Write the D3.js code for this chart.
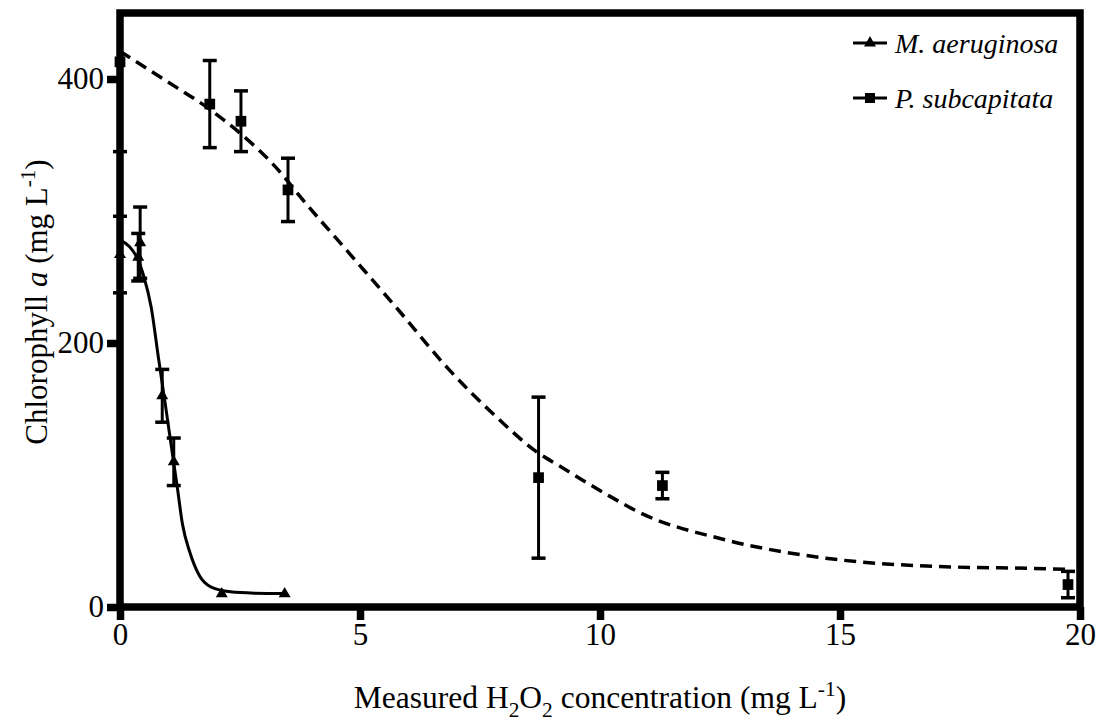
<!DOCTYPE html>
<html>
<head>
<meta charset="utf-8">
<script src="https://cdn.jsdelivr.net/npm/d3@7"></script>
<style>
body { margin: 0; background: #fff; }
text { font-family: "Liberation Serif", "Times New Roman", serif; fill: #000; }
</style>
</head>
<body>
<script>
// tick values
var xTicks = [0, 5, 10, 15, 20];
var yTicks = [0, 200, 400];

// M. aeruginosa: means and error
var maeX   = [0, 0.38, 0.42, 0.88, 1.12, 2.12, 3.43];
var maeY   = [267, 265, 276, 160, 110, 10, 10];
var maeErr = [29, 18, 27, 20, 18, 0, 0];

// M. aeruginosa fitted curve
var maeFitX = [0, 0.2, 0.35, 0.5, 0.65, 0.8, 0.95, 1.1, 1.2, 1.3, 1.45, 1.65, 1.9, 2.3, 2.8, 3.45];
var maeFitY = [278, 273, 265, 250, 227, 189, 152, 114, 89, 63, 42, 24, 15, 11.5, 10.5, 10.2];

// P. subcapitata: means and error
var psX   = [0, 1.87, 2.52, 3.5, 8.72, 11.3, 19.75];
var psY   = [413, 381, 368, 316, 98, 92, 17];
var psErr = [68, 33, 23, 24, 61, 10, 10];

// P. subcapitata fitted curve (dashed)
var psFitX = [0, 0.9, 1.87, 2.5, 3.3, 3.75, 4.8, 5.8, 6.85, 7.9, 8.7, 9.15, 10.2, 10.8, 12.6, 14.7, 16.8, 19.3, 19.8];
var psFitY = [421, 400, 377, 359, 331, 311, 267, 225, 180, 142, 117, 107, 84, 72, 51, 37, 31, 29, 28.5];

var margin = {top: 13, right: 20, bottom: 114, left: 120},
    width = 1100 - margin.left - margin.right,
    height = 721 - margin.top - margin.bottom;

var svgRoot = d3.select("body").append("svg")
    .attr("width", width + margin.left + margin.right)
    .attr("height", height + margin.top + margin.bottom);

var svg = svgRoot.append("g")
    .attr("transform", "translate(" + margin.left + "," + margin.top + ")");

var x = d3.scaleLinear().domain([0, 20]).range([0, width]),
    y = d3.scaleLinear().domain([0, 450]).range([height, 0]);

// clip so the big error bar at x=0 does not poke out over the top
svg.append("clipPath").attr("id", "plotclip")
  .append("rect")
    .attr("x", -20).attr("y", -3)
    .attr("width", width + 40).attr("height", height + 20);

// axes
var xAxis = d3.axisBottom(x).tickValues(xTicks).tickSize(13).tickPadding(3).tickSizeOuter(0);
var yAxis = d3.axisLeft(y).tickValues(yTicks).tickSize(13).tickPadding(3).tickSizeOuter(0);

var gx = svg.append("g")
    .attr("transform", "translate(0," + height + ")")
    .call(xAxis);
var gy = svg.append("g").call(yAxis);

[gx, gy].forEach(function(g) {
  g.attr("font-family", null).attr("font-size", null);
  g.select(".domain").remove();
  g.selectAll(".tick line").attr("stroke", "#000").attr("stroke-width", 7.5);
  g.selectAll(".tick text")
    .style("font-family", "'Liberation Serif', 'Times New Roman', serif")
    .style("font-size", "31px")
    .attr("fill", "#000");
});

// frame
svg.append("rect")
    .attr("x", 0).attr("y", 0)
    .attr("width", width).attr("height", height)
    .attr("fill", "none")
    .attr("stroke", "#000")
    .attr("stroke-width", 7.5);

// curves
var line = d3.line()
    .curve(d3.curveMonotoneX)
    .x(function(d) { return x(d[0]); })
    .y(function(d) { return y(d[1]); });

svg.append("path")
    .datum(maeFitX.map(function(v, i) { return [v, maeFitY[i]]; }))
    .attr("fill", "none")
    .attr("stroke", "#000")
    .attr("stroke-width", 3)
    .attr("d", line);

svg.append("path")
    .datum(psFitX.map(function(v, i) { return [v, psFitY[i]]; }))
    .attr("fill", "none")
    .attr("stroke", "#000")
    .attr("stroke-width", 3.5)
    .attr("stroke-dasharray", "12,7")
    .attr("d", line);

// error bars + markers
function drawSeries(xs, ys, errs, symbolType, size) {
  var data = xs.map(function(v, i) { return {x: v, y: ys[i], e: errs[i]}; });
  var eb = svg.append("g").attr("clip-path", "url(#plotclip)");
  var withErr = data.filter(function(d) { return d.e > 0; });

  eb.selectAll(".bar").data(withErr).enter().append("line")
    .attr("x1", function(d) { return x(d.x); })
    .attr("x2", function(d) { return x(d.x); })
    .attr("y1", function(d) { return y(d.y - d.e); })
    .attr("y2", function(d) { return y(d.y + d.e); })
    .attr("stroke", "#000").attr("stroke-width", 3);

  // caps
  var caps = [];
  withErr.forEach(function(d) { caps.push({x: d.x, v: d.y - d.e}); caps.push({x: d.x, v: d.y + d.e}); });
  eb.selectAll(".cap").data(caps).enter().append("line")
    .attr("x1", function(d) { return x(d.x) - 7; })
    .attr("x2", function(d) { return x(d.x) + 7; })
    .attr("y1", function(d) { return y(d.v); })
    .attr("y2", function(d) { return y(d.v); })
    .attr("stroke", "#000").attr("stroke-width", 3.5);

  svg.append("g").selectAll("path").data(data).enter().append("path")
    .attr("transform", function(d) { return "translate(" + x(d.x) + "," + y(d.y) + ")"; })
    .attr("d", d3.symbol().type(symbolType).size(size))
    .attr("fill", "#000");
}

drawSeries(maeX, maeY, maeErr, d3.symbolTriangle, 62);
drawSeries(psX, psY, psErr, d3.symbolSquare, 115);

// legend
var legendItems = [
  {name: "M. aeruginosa", sym: d3.symbolTriangle, size: 62},
  {name: "P. subcapitata", sym: d3.symbolSquare, size: 100}
];
var legend = svgRoot.append("g").attr("transform", "translate(853,43)");
var li = legend.selectAll("g").data(legendItems).enter().append("g")
    .attr("transform", function(d, i) { return "translate(0," + (i * 55) + ")"; });
li.append("line")
    .attr("x1", 0).attr("x2", 34)
    .attr("stroke", "#000").attr("stroke-width", 3);
li.append("path")
    .attr("transform", "translate(17,0)")
    .attr("d", function(d) { return d3.symbol().type(d.sym).size(d.size)(); })
    .attr("fill", "#000");
li.append("text")
    .attr("x", 42).attr("y", 10)
    .style("font-size", "28px")
    .style("font-style", "italic")
    .text(function(d) { return d.name; });

// rich text helper: parts = [[text, kind]]
function richText(t, parts, size) {
  var shift = 0;
  parts.forEach(function(p) {
    var ts = t.append("tspan").text(p[0]);
    var target = 0;
    if (p[1] === "sub") target = size * 0.3;
    if (p[1] === "sup") target = -size * 0.38;
    if (p[1] === "sub" || p[1] === "sup") ts.style("font-size", (size * 0.68) + "px");
    if (p[1] === "i") ts.style("font-style", "italic");
    if (target !== shift) { ts.attr("dy", target - shift); shift = target; }
  });
}

// x axis title
var xt = svgRoot.append("text")
    .attr("x", margin.left + width / 2).attr("y", 708)
    .attr("text-anchor", "middle")
    .style("font-size", "31.5px");
richText(xt, [["Measured H", "n"], ["2", "sub"], ["O", "n"], ["2", "sub"],
              [" concentration (mg L", "n"], ["-1", "sup"], [")", "n"]], 31.5);

// y axis title
var yt = svgRoot.append("text")
    .attr("transform", "translate(47,302) rotate(-90)")
    .attr("text-anchor", "middle")
    .style("font-size", "31px");
richText(yt, [["Chlorophyll ", "n"], ["a", "i"], [" (mg L", "n"], ["-1", "sup"], [")", "n"]], 31);
</script>
</body>
</html>
